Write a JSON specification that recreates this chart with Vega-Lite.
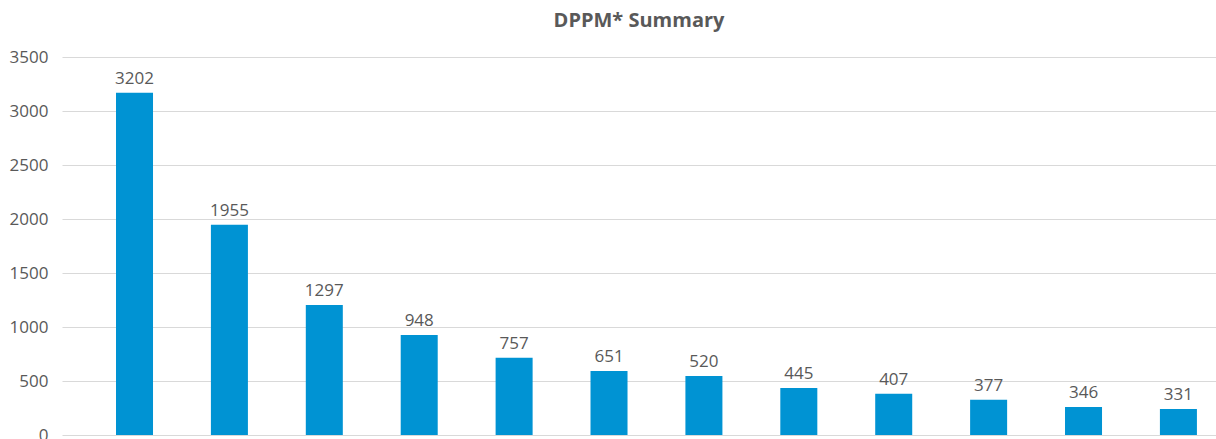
{
  "$schema": "https://vega.github.io/schema/vega-lite/v6.json",
  "width": 1154,
  "height": 378,
  "autosize": {"type": "none"},
  "padding": {"left": 62, "top": 57, "right": 0, "bottom": 4},
  "background": "white",
  "title": {
    "text": "DPPM* Summary",
    "font": "Open Sans",
    "fontSize": 20,
    "fontWeight": "bold",
    "color": "#595959",
    "anchor": "middle",
    "offset": 17
  },
  "data": {
    "values": [
      {"item": "1", "bar": 3169, "dppm": 3202},
      {"item": "2", "bar": 1947, "dppm": 1955},
      {"item": "3", "bar": 1204, "dppm": 1297},
      {"item": "4", "bar": 926, "dppm": 948},
      {"item": "5", "bar": 716, "dppm": 757},
      {"item": "6", "bar": 593, "dppm": 651},
      {"item": "7", "bar": 546, "dppm": 520},
      {"item": "8", "bar": 435, "dppm": 445},
      {"item": "9", "bar": 382, "dppm": 407},
      {"item": "10", "bar": 327, "dppm": 377},
      {"item": "11", "bar": 259, "dppm": 346},
      {"item": "12", "bar": 241, "dppm": 331}
    ]
  },
  "encoding": {
    "x": {
      "field": "item",
      "type": "nominal",
      "sort": null,
      "scale": {"paddingInner": 0.61, "paddingOuter": 0.385, "align": 0.739},
      "axis": null
    },
    "y": {
      "field": "bar",
      "type": "quantitative",
      "scale": {"domain": [0, 3500], "nice": false},
      "axis": {
        "title": null,
        "values": [0, 500, 1000, 1500, 2000, 2500, 3000, 3500],
        "format": "d",
        "domain": false,
        "ticks": false,
        "labelPadding": 14,
        "labelFont": "Open Sans",
        "labelFontSize": 17,
        "labelColor": "#595959",
        "gridColor": "#d9d9d9",
        "gridWidth": 1
      }
    }
  },
  "layer": [
    {"mark": {"type": "bar", "color": "#0093d3"}},
    {
      "mark": {
        "type": "text",
        "font": "Open Sans",
        "fontSize": 17,
        "color": "#595959",
        "baseline": "alphabetic",
        "dy": -9
      },
      "encoding": {"text": {"field": "dppm", "type": "quantitative", "format": "d"}}
    }
  ],
  "config": {"view": {"stroke": null}}
}
